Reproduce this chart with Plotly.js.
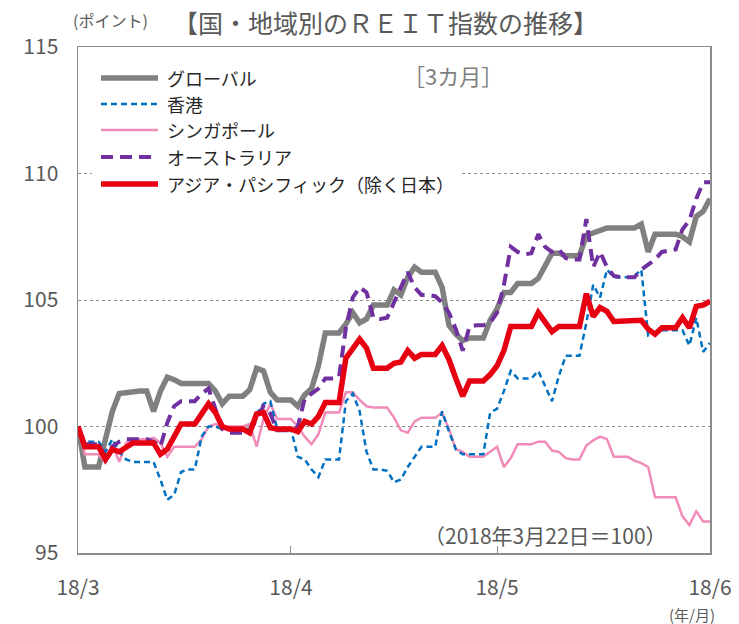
<!DOCTYPE html>
<html><head><meta charset="utf-8">
<script src="https://cdn.plot.ly/plotly-3.0.1.min.js"></script>
<style>body{margin:0;background:#fff}#c{width:739px;height:624px}</style>
</head><body><div id="c"></div><script>
const dates=[
'2018-03-22','2018-03-23','2018-03-24','2018-03-25','2018-03-26','2018-03-27','2018-03-28','2018-03-29','2018-03-30','2018-03-31',
'2018-04-01','2018-04-02','2018-04-03','2018-04-04','2018-04-05','2018-04-06','2018-04-07','2018-04-08','2018-04-09','2018-04-10',
'2018-04-11','2018-04-12','2018-04-13','2018-04-14','2018-04-15','2018-04-16','2018-04-17','2018-04-18','2018-04-19','2018-04-20',
'2018-04-21','2018-04-22','2018-04-23','2018-04-24','2018-04-25','2018-04-26','2018-04-27','2018-04-28','2018-04-29','2018-04-30',
'2018-05-01','2018-05-02','2018-05-03','2018-05-04','2018-05-05','2018-05-06','2018-05-07','2018-05-08','2018-05-09','2018-05-10',
'2018-05-11','2018-05-12','2018-05-13','2018-05-14','2018-05-15','2018-05-16','2018-05-17','2018-05-18','2018-05-19','2018-05-20',
'2018-05-21','2018-05-22','2018-05-23','2018-05-24','2018-05-25','2018-05-26','2018-05-27','2018-05-28','2018-05-29','2018-05-30',
'2018-05-31','2018-06-01','2018-06-02','2018-06-03','2018-06-04','2018-06-05','2018-06-06','2018-06-07','2018-06-08','2018-06-09',
'2018-06-10','2018-06-11','2018-06-12','2018-06-13','2018-06-14','2018-06-15','2018-06-16','2018-06-17','2018-06-18','2018-06-19',
'2018-06-20','2018-06-21','2018-06-22'];

const globalVals=[100,98.4,98.4,98.4,99.5,100.6,101.3,101.35,101.4,101.4,
101.4,100.6,101.4,101.95,101.85,101.7,101.7,101.7,101.65,101.7,
101.4,100.9,101.2,101.2,101.2,101.45,102.3,102.2,101.35,101.05,
101.05,101.05,100.8,101.25,101.5,102.4,103.7,103.7,103.7,104.05,
104.5,104.1,104.25,104.8,104.8,104.8,105.4,105.2,105.9,106.3,
106.1,106.1,106.1,105.5,104.0,103.65,103.4,103.5,103.5,103.5,
104.2,104.65,105.3,105.3,105.65,105.65,105.65,105.85,106.3,106.85,
106.85,106.75,106.75,106.75,107.55,107.65,107.8,107.85,107.85,107.85,
107.85,107.85,108.0,106.9,107.6,107.6,107.6,107.6,107.5,107.3,
108.3,108.5,109.0];

const hongKong=[100,99.4,99.4,99.4,99.0,99.5,99.0,98.7,98.6,98.6,
98.6,98.6,97.9,97.1,97.3,98.2,98.3,98.3,99.6,100.0,
100.0,99.9,99.9,99.9,99.9,99.9,100.5,100.9,101.0,99.9,
99.9,99.9,98.8,98.7,98.3,98.0,98.7,98.7,98.7,101.0,
101.3,100.6,99.0,98.3,98.3,98.25,97.8,97.9,98.4,98.8,
99.2,99.2,99.2,100.6,99.8,99.1,98.9,98.9,98.9,98.9,
100.55,100.7,101.4,102.2,101.9,101.9,101.9,102.2,101.6,101.0,
102.0,102.8,102.8,102.8,104.1,105.6,105.1,106.2,105.9,105.9,
105.9,105.95,106.2,103.6,103.7,103.8,103.8,103.8,103.8,103.2,
104.3,102.95,103.3];

const singapore=[100,98.9,98.9,98.9,98.6,99.3,98.6,99.35,99.5,99.5,
99.5,99.55,99.35,98.8,99.2,99.2,99.2,99.2,99.5,100.0,
100.1,100.0,100.0,100.0,100.0,100.1,99.2,100.3,100.9,100.3,
100.3,100.3,100.0,99.6,99.3,99.7,100.55,100.55,100.55,101.35,
101.35,101.05,100.8,100.75,100.75,100.75,100.35,99.85,99.75,100.2,
100.35,100.35,100.35,100.55,99.9,99.1,99.0,98.8,98.8,98.8,
99.0,99.2,98.4,98.75,99.3,99.3,99.3,99.4,99.4,99.05,
99.0,98.75,98.7,98.7,99.25,99.45,99.6,99.5,98.8,98.8,
98.8,98.65,98.55,98.4,97.2,97.2,97.2,97.2,96.45,96.1,
96.65,96.25,96.25];

const australia=[100,99.3,99.3,99.3,98.8,99.2,99.4,99.5,99.5,99.5,
99.5,99.4,99.2,100.15,100.8,101.0,101.0,101.0,101.3,101.5,
100.7,99.9,99.75,99.75,99.75,99.8,100.3,100.8,100.5,99.85,
99.85,99.85,100.0,101.1,101.3,101.5,101.9,101.9,101.95,103.9,
105.1,105.5,105.3,104.3,104.25,104.3,104.9,105.5,106.1,105.5,
105.2,105.2,105.15,104.9,104.5,103.85,103.0,103.95,104.0,104.0,
104.1,104.5,105.6,107.1,106.9,106.8,106.85,107.6,107.1,106.9,
107.0,106.65,106.6,106.6,108.2,106.3,106.9,106.3,105.95,105.9,
105.9,105.9,106.2,106.4,106.6,106.9,106.95,107.0,107.8,108.15,
109.0,109.65,109.65];

const asiaPacific=[100,99.2,99.2,99.2,98.7,99.1,99.0,99.2,99.35,99.35,
99.35,99.35,98.9,99.1,99.6,100.1,100.1,100.1,100.5,100.9,
100.55,100.0,99.9,99.9,99.9,99.75,100.5,100.55,99.95,99.9,
99.9,99.9,99.8,100.2,100.1,100.4,100.95,100.95,100.95,102.7,
103.1,103.45,103.1,102.3,102.3,102.3,102.5,102.55,103.0,102.7,
102.85,102.85,102.85,103.2,102.65,101.9,101.2,101.8,101.8,101.8,
102.05,102.4,103.0,103.95,103.95,103.95,103.95,104.5,104.1,103.75,
103.95,103.95,103.95,103.95,105.25,104.35,104.7,104.55,104.15,104.15,
104.15,104.2,104.2,103.85,103.65,103.9,103.9,103.9,104.3,103.9,
104.75,104.8,104.95];

const seriesNames=['グローバル','香港','シンガポール','オーストラリア','アジア・パシフィック（除く日本）'];
const tickVals=['2018-03-22','2018-04-22','2018-05-22','2018-06-22'];
const tickText=['18/3','18/4','18/5','18/6'];

const FONT='"Noto Sans CJK JP", "Noto Sans", sans-serif';
const TXT='#595959';
const styles=[
 {color:'#808080',width:5.5,dash:'solid'},
 {color:'#0070c0',width:2.5,dash:'6px,4px'},
 {color:'#f08cb8',width:2.5,dash:'solid'},
 {color:'#7030a0',width:4,dash:'12px,7px'},
 {color:'#e60012',width:5.5,dash:'solid'}
];
const vals=[globalVals,hongKong,singapore,australia,asiaPacific];
const order=[0,2,1,3,4];
const traces=order.map(i=>({x:dates,y:vals[i],type:'scatter',mode:'lines',name:seriesNames[i],
  line:{color:styles[i].color,width:styles[i].width,dash:styles[i].dash},showlegend:false,hoverinfo:'skip'}));

const L=78,R=710,T=47,B=553;
const px=x=>(x-L)/(R-L), py=y=>(B-y)/(B-T);

const legendRows=[78,104,130,157,184];
const shapes=[{type:'rect',xref:'paper',yref:'paper',x0:px(92),x1:px(460),y0:py(62),y1:py(198),
  fillcolor:'#fff',line:{width:0},layer:'above'}];
const annotations=[];
legendRows.forEach((ry,i)=>{
  shapes.push({type:'line',xref:'paper',yref:'paper',x0:px(101),x1:px(158),y0:py(ry),y1:py(ry),
    line:{color:styles[i].color,width:styles[i].width,dash:styles[i].dash},layer:'above'});
  annotations.push({xref:'paper',yref:'paper',x:px(165),y:py(ry),xanchor:'left',yanchor:'middle',
    text:seriesNames[i],showarrow:false,font:{family:FONT,size:18,color:'#262626'}});
});
annotations.push(
 {xref:'paper',yref:'paper',x:px(385),y:py(22),text:'【国・地域別のＲＥＩＴ指数の推移】',showarrow:false,
  xanchor:'center',yanchor:'middle',font:{family:FONT,size:25,color:TXT}},
 {xref:'paper',yref:'paper',x:px(110),y:py(20),text:'(ポイント)',showarrow:false,
  xanchor:'center',yanchor:'middle',font:{family:FONT,size:16,color:TXT}},
 {xref:'paper',yref:'paper',x:px(453),y:py(75),text:'［3カ月］',showarrow:false,
  xanchor:'center',yanchor:'middle',font:{family:FONT,size:22,color:'#7f7f7f'}},
 {xref:'paper',yref:'paper',x:px(545),y:py(535),text:'（2018年3月22日＝100）',showarrow:false,
  xanchor:'center',yanchor:'middle',font:{family:FONT,size:21,color:TXT}},
 {xref:'paper',yref:'paper',x:px(692),y:py(614),text:'(年/月)',showarrow:false,
  xanchor:'center',yanchor:'middle',font:{family:FONT,size:15,color:TXT}}
);

const layout={
 width:739,height:624,margin:{l:L,r:739-R,t:T,b:624-B},
 paper_bgcolor:'#fff',plot_bgcolor:'#fff',showlegend:false,
 font:{family:FONT,color:TXT},
 xaxis:{type:'date',range:['2018-03-22','2018-06-22'],tickmode:'array',tickvals:tickVals,ticktext:tickText,
  showgrid:false,zeroline:false,showline:true,mirror:true,linecolor:'#8c8c8c',linewidth:1.5,
  ticks:'inside',ticklen:7,tickcolor:'#8c8c8c',tickwidth:1,ticklabelstandoff:15,
  tickfont:{family:FONT,size:21,color:TXT},fixedrange:true},
 yaxis:{range:[95,115],tickmode:'array',tickvals:[95,100,105,110,115],ticktext:['95','100','105','110','115'],
  showgrid:true,gridcolor:'#8c8c8c',griddash:'dot',gridwidth:1,zeroline:false,
  showline:true,mirror:true,linecolor:'#8c8c8c',linewidth:1.5,ticks:'',ticklabelstandoff:14,
  tickfont:{family:FONT,size:21,color:TXT},fixedrange:true},
 shapes:shapes,annotations:annotations
};
Plotly.newPlot('c',traces,layout,{displayModeBar:false,staticPlot:true});
</script></body></html>
